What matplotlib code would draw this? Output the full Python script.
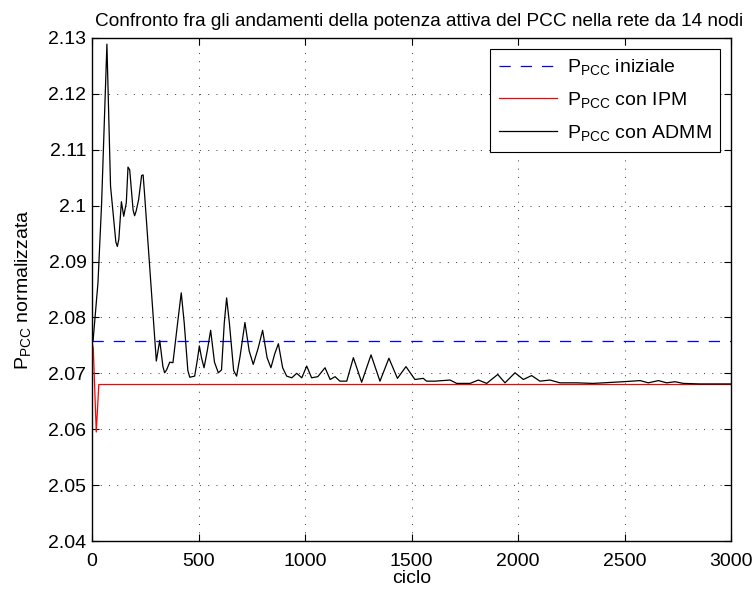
#!/usr/bin/env python3

import matplotlib

matplotlib.use("Agg")
import matplotlib.pyplot as plt

plt.rcParams["font.family"] = ["Liberation Sans", "DejaVu Sans"]
plt.rcParams["mathtext.fontset"] = "custom"
plt.rcParams["mathtext.rm"] = "Liberation Sans"
plt.rcParams["mathtext.it"] = "Liberation Sans:italic"

TITLE = "Confronto fra gli andamenti della potenza attiva del PCC nella rete da 14 nodi"

# initial PCC power (flat reference)
initial_cycle = [0, 3000]
initial_value = [2.0757, 2.0757]

# IPM result
ipm_cycle = [0, 6, 20, 32, 3000]
ipm_value = [2.0757, 2.0745, 2.0595, 2.0680, 2.0680]

# ADMM iterations
admm_cycle = [
    0, 5, 28, 45, 70, 87, 112, 119, 126, 138, 149, 161, 169, 177, 193, 200, 207,
    219, 233, 240, 246,
    302, 318, 333, 341, 350, 365, 380, 405, 419, 433, 450, 459, 482, 495, 504,
    514, 526, 541, 557, 575, 593, 608, 621, 632, 645, 665, 679, 695, 718, 738,
    757, 780, 801, 822, 840, 858, 875, 895, 914, 938, 961, 985, 1008, 1031,
    1060, 1094, 1118, 1141, 1164, 1196, 1227, 1266, 1310, 1352, 1394, 1434,
    1474, 1516, 1555, 1571, 1610, 1681, 1712, 1775, 1814, 1853, 1905, 1939,
    1986, 2025, 2064, 2103, 2150, 2197, 2276, 2353, 2494, 2573, 2612, 2659,
    2698, 2737, 2776, 2855, 3000,
]
admm_value = [
    2.0757, 2.0758, 2.0862, 2.1003, 2.1289, 2.1035, 2.0935, 2.0927, 2.0940,
    2.1007, 2.0981, 2.1005, 2.1069, 2.1064, 2.0992, 2.0982, 2.0990,
    2.1011, 2.1054, 2.1055, 2.1025,
    2.0722, 2.0759, 2.0712, 2.0701, 2.0706, 2.0720, 2.0719, 2.0800, 2.0844,
    2.0790, 2.0705, 2.0693, 2.0695, 2.0725, 2.0749,
    2.0728, 2.0710, 2.0740, 2.0777, 2.0720, 2.0701, 2.0706, 2.0790, 2.0835,
    2.0790, 2.0705, 2.0695, 2.0730, 2.0791, 2.0740,
    2.0716, 2.0745, 2.0777, 2.0728, 2.0710, 2.0735, 2.0753, 2.0710, 2.0695,
    2.0692, 2.0700, 2.0692, 2.0713, 2.0692,
    2.0694, 2.0710, 2.0689, 2.0694, 2.0686, 2.0686, 2.0728, 2.0684, 2.0733,
    2.0686, 2.0727, 2.0691,
    2.0712, 2.0689, 2.0691, 2.0686, 2.0686, 2.0688, 2.0682, 2.0682, 2.0688,
    2.0682, 2.0698, 2.0683,
    2.0701, 2.0689, 2.0696, 2.0686, 2.0688, 2.0683, 2.0683, 2.0682, 2.0685,
    2.0687, 2.0683, 2.0687,
    2.0683, 2.0685, 2.0682, 2.0681, 2.0681,
]

x_ticks = [0, 500, 1000, 1500, 2000, 2500, 3000]
y_ticks = [2.04, 2.05, 2.06, 2.07, 2.08, 2.09, 2.10, 2.11, 2.12, 2.13]
y_tick_labels = ["2.04", "2.05", "2.06", "2.07", "2.08", "2.09", "2.1", "2.11", "2.12", "2.13"]

PCC = r"$\mathregular{P_{PCC}}$"
FONT_SIZE = 14

fig = plt.figure(figsize=(7.52, 5.89), dpi=100)
ax = fig.add_axes([92 / 752, 48 / 589, 639 / 752, 503 / 589])

ax.plot(initial_cycle, initial_value, color="blue", lw=0.9,
        linestyle=(0, (9.0, 8.0)), label=f"{PCC} iniziale")
ax.plot(ipm_cycle, ipm_value, color="red", lw=0.9, label=f"{PCC} con IPM")
ax.plot(admm_cycle, admm_value, color="black", lw=0.9, label=f"{PCC} con ADMM")

ax.set_xlim(0, 3000)
ax.set_ylim(2.04, 2.13)
ax.set_xticks(x_ticks)
ax.set_yticks(y_ticks, y_tick_labels)
ax.tick_params(direction="in", top=True, right=True, length=5, width=0.8,
               labelsize=FONT_SIZE, pad=4)
ax.tick_params(axis="x", pad=8.5)
for spine in ax.spines.values():
    spine.set_linewidth(1.0)

ax.grid(True, color="0.2", lw=0.7, linestyle=(0, (1.0, 7.5)))
ax.set_axisbelow(True)

ax.set_title(TITLE, fontsize=13.7, pad=9, x=0.512)
ax.set_xlabel("ciclo", fontsize=FONT_SIZE, labelpad=0)
ax.set_ylabel(f"{PCC} normalizzata", fontsize=FONT_SIZE, labelpad=11)

legend = ax.legend(loc="upper right", fontsize=FONT_SIZE, fancybox=False,
                   framealpha=1, edgecolor="black", handlelength=3.0,
                   borderaxespad=0.55, labelspacing=0.66, handletextpad=0.5,
                   borderpad=0.45)
legend.get_frame().set_linewidth(0.8)

fig.savefig("out.png", dpi=100)
